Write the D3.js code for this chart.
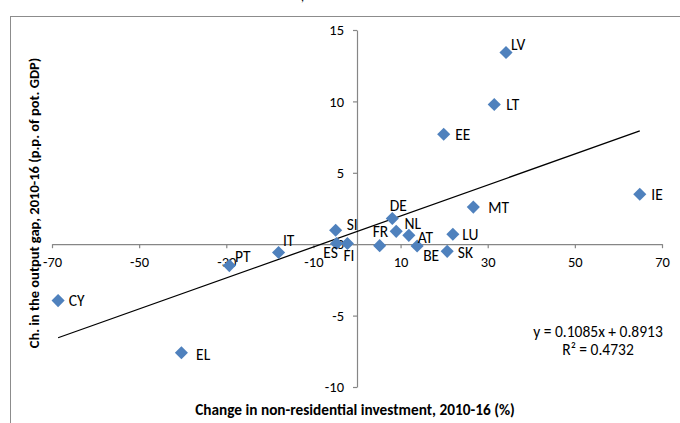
<!DOCTYPE html>
<html>
<head>
<meta charset="utf-8">
<script src="https://cdn.jsdelivr.net/npm/d3@7"></script>
<style>
  html, body { margin: 0; padding: 0; background: #fff; }
  svg { display: block; }
  text { font-family: Carlito, Calibri, Lato, sans-serif; fill: #000; }
</style>
</head>
<body>
<svg id="chart" width="680" height="423"></svg>
<script>
// ---- data ----
const countries = ["LV","LT","EE","IE","MT","DE","NL","AT","LU","FR","BE","SK","SI","ES","FI","IT","PT","CY","EL"];
const investmentChange = [34.2, 31.5, 19.9, 64.9, 26.7, 8.1, 9.0, 11.9, 22.0, 5.2, 13.8, 20.7, -4.9, -4.7, -2.2, -18.0, -29.3, -68.6, -40.3];
const outputGapChange = [13.42, 9.78, 7.7, 3.5, 2.6, 1.8, 0.9, 0.62, 0.7, -0.1, -0.13, -0.5, 0.98, 0.05, 0.05, -0.58, -1.5, -3.95, -7.6];
const xTicks = [-70, -50, -30, -10, 10, 30, 50, 70];
const yTicks = [-10, -5, 0, 5, 10, 15];
const trendSlope = 0.1085;
const trendIntercept = 0.8913;
const rSquared = 0.4732;
const xTitle = "Change in non-residential investment, 2010-16 (%)";
const yTitle = "Ch. in the output gap, 2010-16 (p.p. of pot. GDP)";

// ---- label placement (styling) ----
const labelPlace = {
  LV: {dx: 5, dy: -8.5, a: "start"},
  LT: {dx: 12, dy: 0, a: "start"},
  EE: {dx: 11.5, dy: 0.5, a: "start"},
  IE: {dx: 11.5, dy: 0.5, a: "start"},
  MT: {dx: 15, dy: 0.5, a: "start"},
  DE: {dx: 6, dy: -12.6, a: "middle"},
  NL: {dx: 8.3, dy: -7.7, a: "start"},
  AT: {dx: 9, dy: 1.7, a: "start"},
  LU: {dx: 9.5, dy: 0, a: "start"},
  FR: {dx: 0.8, dy: -14, a: "middle"},
  BE: {dx: 6, dy: 9, a: "start"},
  SK: {dx: 10.6, dy: 0.7, a: "start"},
  SI: {dx: 11, dy: -5.7, a: "start"},
  ES: {dx: 1.3, dy: 9.4, a: "end"},
  FI: {dx: -4, dy: 12.4, a: "start"},
  IT: {dx: 4.4, dy: -12.3, a: "start"},
  PT: {dx: 5.7, dy: -9, a: "start"},
  CY: {dx: 10.6, dy: 0, a: "start"},
  EL: {dx: 14.7, dy: 1.6, a: "start"}
};

const svg = d3.select("#chart");

// chart frame
svg.append("rect").attr("x", 10.5).attr("y", 16.5).attr("width", 700).attr("height", 450)
  .attr("fill", "none").attr("stroke", "#8c8c8c").attr("stroke-width", 1);

// fragment of the title above the visible area
svg.append("text").attr("x", 301).attr("y", 1).attr("font-size", 12).text(",");

const x = d3.scaleLinear().domain([-70, 70]).range([52, 662]);
const y = d3.scaleLinear().domain([-10, 15]).range([387, 30]);

const axisColor = "#868686";
const tickFont = 14.5;

// x axis at y=0
const gx = svg.append("g").attr("transform", `translate(0,${y(0)})`)
  .call(d3.axisBottom(x).tickValues(xTicks).tickSize(4).tickSizeOuter(0).tickPadding(9).tickFormat(d3.format("d")));
// y axis at x=0
const gy = svg.append("g").attr("transform", `translate(${x(0)},0)`)
  .call(d3.axisLeft(y).tickValues(yTicks).tickSize(4).tickSizeOuter(0).tickPadding(9).tickFormat(d3.format("d")));

[gx, gy].forEach(g => {
  g.select(".domain").attr("stroke", axisColor).attr("stroke-width", 1.2);
  g.selectAll(".tick line").attr("stroke", axisColor).attr("stroke-width", 1.2);
  g.selectAll(".tick text").attr("fill", "#000").attr("font-size", tickFont)
    .attr("font-family", "Carlito, Calibri, Lato, sans-serif")
    .text(d => String(d));
});

// trend line
const xExt = d3.extent(investmentChange);
const trendPts = xExt.map(v => [v, trendSlope * v + trendIntercept]);
svg.append("path")
  .attr("d", d3.line().x(d => x(d[0])).y(d => y(d[1]))(trendPts))
  .attr("stroke", "#000").attr("stroke-width", 1.3).attr("fill", "none");

// points
const pts = countries.map((c, i) => ({c, xv: investmentChange[i], yv: outputGapChange[i]}));
const sym = d3.symbol().type(d3.symbolSquare).size(86);
svg.append("g").selectAll("path").data(pts).join("path")
  .attr("d", sym)
  .attr("transform", d => `translate(${x(d.xv)},${y(d.yv)}) rotate(45)`)
  .attr("fill", "#4F81BD");

// labels
svg.append("g").selectAll("text").data(pts).join("text")
  .attr("x", d => x(d.xv) + labelPlace[d.c].dx)
  .attr("y", d => y(d.yv) + labelPlace[d.c].dy)
  .attr("text-anchor", d => labelPlace[d.c].a)
  .attr("dominant-baseline", "central")
  .attr("font-size", 15.5)
  .text(d => d.c);

// equation
svg.append("text").attr("x", 598).attr("y", 331).attr("text-anchor", "middle")
  .attr("dominant-baseline", "central").attr("font-size", 15.5)
  .text(`y = ${trendSlope}x + ${trendIntercept}`);
svg.append("text").attr("x", 598).attr("y", 349).attr("text-anchor", "middle")
  .attr("dominant-baseline", "central").attr("font-size", 15.5)
  .text(`R² = ${rSquared}`);

// axis titles
svg.append("text").attr("x", 355).attr("y", 409).attr("text-anchor", "middle")
  .attr("dominant-baseline", "central").attr("font-weight", "bold").attr("font-size", 15.3)
  .text(xTitle);
svg.append("text").attr("transform", "translate(34,203) rotate(-90)").attr("text-anchor", "middle")
  .attr("dominant-baseline", "central").attr("font-weight", "bold").attr("font-size", 14.5)
  .text(yTitle);
</script>
</body>
</html>
